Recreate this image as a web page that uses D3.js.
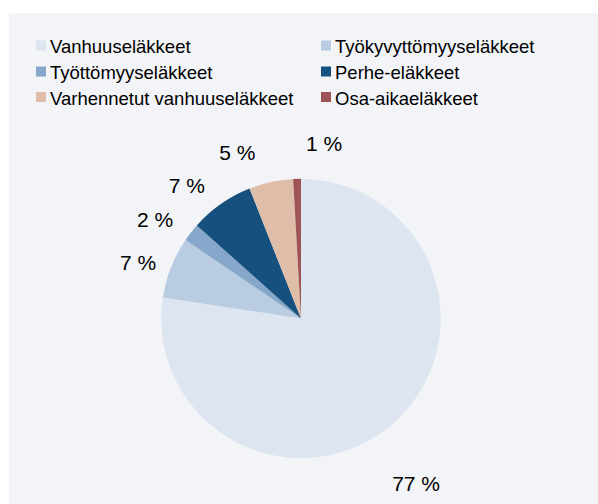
<!DOCTYPE html>
<html>
<head>
<meta charset="utf-8">
<script src="https://cdn.jsdelivr.net/npm/d3@7"></script>
<style>
  html, body { margin: 0; padding: 0; background: #fff; }
  text { font-family: "Liberation Sans", Arial, sans-serif; fill: #000; }
</style>
</head>
<body>
<svg id="chart" width="598" height="504"></svg>
<script>
// pension types (share of pension expenditure, %)
const categories = ["Vanhuuseläkkeet", "Työkyvyttömyyseläkkeet", "Työttömyyseläkkeet",
                    "Perhe-eläkkeet", "Varhennetut vanhuuseläkkeet", "Osa-aikaeläkkeet"];
const values = [77.4, 7.1, 2.1, 7.4, 5.1, 0.9];
const colors = ["#dde5f0", "#b9cce2", "#86a7c9", "#15507f", "#dfbea9", "#9e5456"];

// label nudges (Excel moves labels around a bit)
const labelNudge = [[1, 32], [0, 8], [-8, 9], [-14, 10], [-26, 5], [28, 0]];

const svg = d3.select("#chart");

svg.append("rect")
  .attr("x", 9).attr("y", 13)
  .attr("width", 589).attr("height", 491)
  .attr("fill", "#f2f4f8");

// legend, two columns
const legend = svg.append("g");
const colX = [36, 321];
const rowY = [53, 79, 104.5];
categories.forEach(function(c, i){
  const g = legend.append("g")
    .attr("transform", `translate(${colX[i % 2]},${rowY[Math.floor(i / 2)]})`);
  g.append("rect")
    .attr("x", 0).attr("y", -12.5)
    .attr("width", 10).attr("height", 10)
    .attr("fill", colors[i]);
  g.append("text")
    .attr("x", 14).attr("y", 0)
    .style("font-size", "18.5px")
    .text(c);
});

// pie
const cx = 301, cy = 318.5, radius = 139.7;
const pie = d3.pie().sort(null).value(d => d);
const arcs = pie(values);
const arc = d3.arc().innerRadius(0).outerRadius(radius);
const labelArc = d3.arc().innerRadius(175).outerRadius(175);

const g = svg.append("g").attr("transform", `translate(${cx},${cy})`);

g.selectAll("path.slice")
  .data(arcs)
  .enter().append("path")
  .attr("class", "slice")
  .attr("d", arc)
  .attr("fill", (d, i) => colors[i]);

g.selectAll("text.lbl")
  .data(arcs)
  .enter().append("text")
  .attr("class", "lbl")
  .attr("transform", function(d, i){
    const p = labelArc.centroid(d);
    return `translate(${p[0] + labelNudge[i][0]},${p[1] + labelNudge[i][1]})`;
  })
  .attr("text-anchor", "middle")
  .attr("dy", "0.36em")
  .style("font-size", "21px")
  .text(d => Math.round(d.data) + " %");
</script>
</body>
</html>
